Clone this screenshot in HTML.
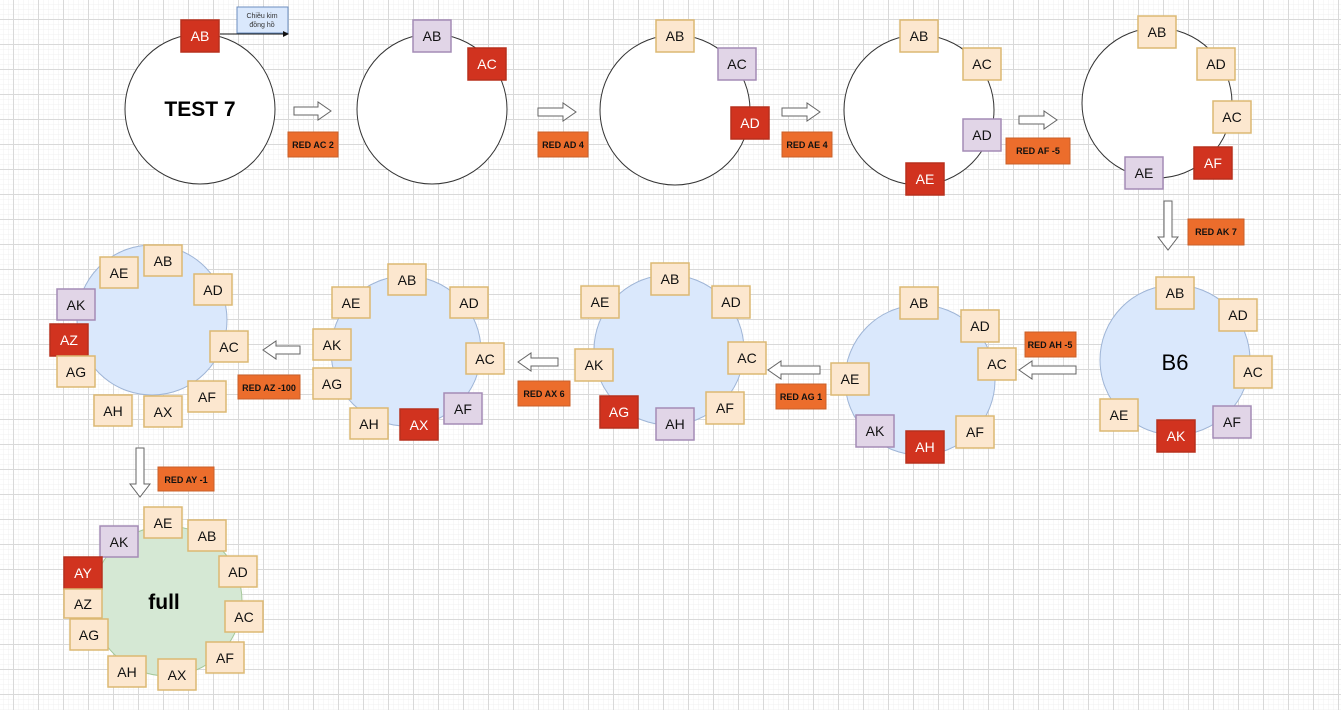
<!DOCTYPE html>
<html><head><meta charset="utf-8"><style>
html,body{margin:0;padding:0;background:#fff}
svg{display:block}
text{font-family:"Liberation Sans",sans-serif}
.p{fill:#fce7cf;stroke:#dcb872;stroke-width:1.5}
.r{fill:#d1331f;stroke:#b8301d;stroke-width:1.5}
.l{fill:#e1d5e7;stroke:#a48bb5;stroke-width:1.5}
.o{fill:#ec6d2c;stroke:#c9602a}
.t{font-size:14px;text-anchor:middle;fill:#111}
.tw{font-size:14px;text-anchor:middle;fill:#fff}
.ot{font-size:9px;font-weight:bold;text-anchor:middle;fill:#111}
.ar{fill:#fff;stroke:#666;stroke-width:1}
</style></head><body>
<svg width="1341" height="710" xmlns="http://www.w3.org/2000/svg">
<defs>
<pattern id="g1" width="5" height="5" patternUnits="userSpaceOnUse" x="13" y="19"><path d="M0 0H5M0 0V5" stroke="#f0f0f0" stroke-width="1" fill="none"/></pattern>
<pattern id="g2" width="25" height="25" patternUnits="userSpaceOnUse" x="13" y="19"><path d="M0 0.5H25M0.5 0V25" stroke="#d9d9d9" stroke-width="1" fill="none"/></pattern>
</defs>
<rect width="1341" height="710" fill="url(#g1)"/>
<rect width="1341" height="710" fill="url(#g2)"/>

<!-- circle 1 -->
<circle cx="200" cy="109" r="75" fill="#fff" stroke="#333"/>
<text x="200" y="116" style="font-size:21px;font-weight:bold;text-anchor:middle">TEST 7</text>
<rect x="237" y="7" width="51" height="26" fill="#dae8fc" stroke="#6c8ebf"/>
<text x="262" y="18" style="font-size:7px;text-anchor:middle;fill:#333">Chiều kim</text>
<text x="262" y="27" style="font-size:7px;text-anchor:middle;fill:#333">đồng hồ</text>
<line x1="220" y1="34" x2="285" y2="34" stroke="#111"/>
<polygon points="289,34 283,31 283,37" fill="#111"/>
<rect x="181" y="20" width="38" height="32" class="r"/><text x="200" y="41" class="tw">AB</text>
<polygon class="ar" points="294,107 318,107 318,102 331,111 318,120 318,115 294,115"/>
<rect x="288" y="132" width="50" height="25" class="o"/><text x="313" y="148" class="ot">RED AC 2</text>

<!-- circle 2 -->
<circle cx="432" cy="109" r="75" fill="#fff" stroke="#333"/>
<rect x="413" y="20" width="38" height="32" class="l"/><text x="432" y="41" class="t">AB</text>
<rect x="468" y="48" width="38" height="32" class="r"/><text x="487" y="69" class="tw">AC</text>
<polygon class="ar" points="538,108 563,108 563,103 576,112 563,121 563,116 538,116"/>
<rect x="538" y="132" width="50" height="25" class="o"/><text x="563" y="148" class="ot">RED AD 4</text>

<!-- circle 3 -->
<circle cx="675" cy="110" r="75" fill="#fff" stroke="#333"/>
<rect x="656" y="20" width="38" height="32" class="p"/><text x="675" y="41" class="t">AB</text>
<rect x="718" y="48" width="38" height="32" class="l"/><text x="737" y="69" class="t">AC</text>
<rect x="731" y="107" width="38" height="32" class="r"/><text x="750" y="128" class="tw">AD</text>
<polygon class="ar" points="782,108 807,108 807,103 820,112 807,121 807,116 782,116"/>
<rect x="782" y="132" width="50" height="25" class="o"/><text x="807" y="148" class="ot">RED AE 4</text>

<!-- circle 4 -->
<circle cx="919" cy="110" r="75" fill="#fff" stroke="#333"/>
<rect x="900" y="20" width="38" height="32" class="p"/><text x="919" y="41" class="t">AB</text>
<rect x="963" y="48" width="38" height="32" class="p"/><text x="982" y="69" class="t">AC</text>
<rect x="963" y="119" width="38" height="32" class="l"/><text x="982" y="140" class="t">AD</text>
<rect x="906" y="163" width="38" height="32" class="r"/><text x="925" y="184" class="tw">AE</text>
<polygon class="ar" points="1019,116 1044,116 1044,111 1057,120 1044,129 1044,124 1019,124"/>
<rect x="1006" y="138" width="64" height="26" class="o"/><text x="1038" y="154" class="ot">RED AF -5</text>

<!-- circle 5 -->
<circle cx="1157" cy="103" r="75" fill="#fff" stroke="#333"/>
<rect x="1138" y="16" width="38" height="32" class="p"/><text x="1157" y="37" class="t">AB</text>
<rect x="1197" y="48" width="38" height="32" class="p"/><text x="1216" y="69" class="t">AD</text>
<rect x="1213" y="101" width="38" height="32" class="p"/><text x="1232" y="122" class="t">AC</text>
<rect x="1194" y="147" width="38" height="32" class="r"/><text x="1213" y="168" class="tw">AF</text>
<rect x="1125" y="157" width="38" height="32" class="l"/><text x="1144" y="178" class="t">AE</text>
<polygon class="ar" points="1164,201 1172,201 1172,237 1178,237 1168,250 1158,237 1164,237"/>
<rect x="1188" y="219" width="56" height="26" class="o"/><text x="1216" y="235" class="ot">RED AK 7</text>

<!-- circle 6 B6 -->
<circle cx="1175" cy="360" r="75" fill="#dae8fc" stroke="#9fb5d6"/>
<text x="1175" y="370" style="font-size:22px;text-anchor:middle">B6</text>
<rect x="1156" y="277" width="38" height="32" class="p"/><text x="1175" y="298" class="t">AB</text>
<rect x="1219" y="299" width="38" height="32" class="p"/><text x="1238" y="320" class="t">AD</text>
<rect x="1234" y="356" width="38" height="32" class="p"/><text x="1253" y="377" class="t">AC</text>
<rect x="1213" y="406" width="38" height="32" class="l"/><text x="1232" y="427" class="t">AF</text>
<rect x="1157" y="420" width="38" height="32" class="r"/><text x="1176" y="441" class="tw">AK</text>
<rect x="1100" y="399" width="38" height="32" class="p"/><text x="1119" y="420" class="t">AE</text>
<polygon class="ar" points="1076,366 1032,366 1032,361 1019,370 1032,379 1032,374 1076,374"/>
<rect x="1025" y="332" width="51" height="25" class="o"/><text x="1050" y="348" class="ot">RED AH -5</text>

<!-- circle 7 -->
<circle cx="920" cy="380" r="75" fill="#dae8fc" stroke="#9fb5d6"/>
<rect x="900" y="287" width="38" height="32" class="p"/><text x="919" y="308" class="t">AB</text>
<rect x="961" y="310" width="38" height="32" class="p"/><text x="980" y="331" class="t">AD</text>
<rect x="978" y="348" width="38" height="32" class="p"/><text x="997" y="369" class="t">AC</text>
<rect x="956" y="416" width="38" height="32" class="p"/><text x="975" y="437" class="t">AF</text>
<rect x="906" y="431" width="38" height="32" class="r"/><text x="925" y="452" class="tw">AH</text>
<rect x="856" y="415" width="38" height="32" class="l"/><text x="875" y="436" class="t">AK</text>
<rect x="831" y="363" width="38" height="32" class="p"/><text x="850" y="384" class="t">AE</text>
<polygon class="ar" points="820,366 781,366 781,361 768,370 781,379 781,374 820,374"/>
<rect x="776" y="384" width="50" height="25" class="o"/><text x="801" y="400" class="ot">RED AG 1</text>

<!-- circle 8 -->
<circle cx="669" cy="350" r="75" fill="#dae8fc" stroke="#9fb5d6"/>
<rect x="651" y="263" width="38" height="32" class="p"/><text x="670" y="284" class="t">AB</text>
<rect x="712" y="286" width="38" height="32" class="p"/><text x="731" y="307" class="t">AD</text>
<rect x="728" y="342" width="38" height="32" class="p"/><text x="747" y="363" class="t">AC</text>
<rect x="706" y="392" width="38" height="32" class="p"/><text x="725" y="413" class="t">AF</text>
<rect x="656" y="408" width="38" height="32" class="l"/><text x="675" y="429" class="t">AH</text>
<rect x="600" y="396" width="38" height="32" class="r"/><text x="619" y="417" class="tw">AG</text>
<rect x="575" y="349" width="38" height="32" class="p"/><text x="594" y="370" class="t">AK</text>
<rect x="581" y="286" width="38" height="32" class="p"/><text x="600" y="307" class="t">AE</text>
<polygon class="ar" points="558,358 531,358 531,353 518,362 531,371 531,366 558,366"/>
<rect x="518" y="381" width="52" height="25" class="o"/><text x="544" y="397" class="ot">RED AX 6</text>

<!-- circle 9 -->
<circle cx="406" cy="351" r="75" fill="#dae8fc" stroke="#9fb5d6"/>
<rect x="388" y="264" width="38" height="31" class="p"/><text x="407" y="285" class="t">AB</text>
<rect x="332" y="287" width="38" height="31" class="p"/><text x="351" y="308" class="t">AE</text>
<rect x="450" y="287" width="38" height="31" class="p"/><text x="469" y="308" class="t">AD</text>
<rect x="313" y="329" width="38" height="31" class="p"/><text x="332" y="350" class="t">AK</text>
<rect x="466" y="343" width="38" height="31" class="p"/><text x="485" y="364" class="t">AC</text>
<rect x="313" y="368" width="38" height="31" class="p"/><text x="332" y="389" class="t">AG</text>
<rect x="444" y="393" width="38" height="31" class="l"/><text x="463" y="414" class="t">AF</text>
<rect x="350" y="408" width="38" height="31" class="p"/><text x="369" y="429" class="t">AH</text>
<rect x="400" y="409" width="38" height="31" class="r"/><text x="419" y="430" class="tw">AX</text>
<polygon class="ar" points="300,346 276,346 276,341 263,350 276,359 276,354 300,354"/>
<rect x="238" y="375" width="62" height="24" class="o"/><text x="269" y="391" class="ot">RED AZ -100</text>

<!-- circle 10 -->
<circle cx="152" cy="320" r="75" fill="#dae8fc" stroke="#9fb5d6"/>
<rect x="144" y="245" width="38" height="31" class="p"/><text x="163" y="266" class="t">AB</text>
<rect x="100" y="257" width="38" height="31" class="p"/><text x="119" y="278" class="t">AE</text>
<rect x="194" y="274" width="38" height="31" class="p"/><text x="213" y="295" class="t">AD</text>
<rect x="57" y="289" width="38" height="31" class="l"/><text x="76" y="310" class="t">AK</text>
<rect x="50" y="324" width="38" height="32" class="r"/><text x="69" y="345" class="tw">AZ</text>
<rect x="210" y="331" width="38" height="31" class="p"/><text x="229" y="352" class="t">AC</text>
<rect x="57" y="356" width="38" height="31" class="p"/><text x="76" y="377" class="t">AG</text>
<rect x="188" y="381" width="38" height="31" class="p"/><text x="207" y="402" class="t">AF</text>
<rect x="94" y="395" width="38" height="31" class="p"/><text x="113" y="416" class="t">AH</text>
<rect x="144" y="396" width="38" height="31" class="p"/><text x="163" y="417" class="t">AX</text>
<polygon class="ar" points="136,448 144,448 144,484 150,484 140,497 130,484 136,484"/>
<rect x="158" y="467" width="56" height="24" class="o"/><text x="186" y="483" class="ot">RED AY -1</text>

<!-- circle 11 full -->
<circle cx="167" cy="601" r="75" fill="#d5e8d4" stroke="#a5c79a"/>
<text x="164" y="609" style="font-size:21px;font-weight:bold;text-anchor:middle">full</text>
<rect x="144" y="507" width="38" height="31" class="p"/><text x="163" y="528" class="t">AE</text>
<rect x="188" y="520" width="38" height="31" class="p"/><text x="207" y="541" class="t">AB</text>
<rect x="100" y="526" width="38" height="31" class="l"/><text x="119" y="547" class="t">AK</text>
<rect x="219" y="556" width="38" height="31" class="p"/><text x="238" y="577" class="t">AD</text>
<rect x="64" y="557" width="38" height="32" class="r"/><text x="83" y="578" class="tw">AY</text>
<rect x="64" y="589" width="38" height="29" class="p"/><text x="83" y="609" class="t">AZ</text>
<rect x="225" y="601" width="38" height="31" class="p"/><text x="244" y="622" class="t">AC</text>
<rect x="70" y="619" width="38" height="31" class="p"/><text x="89" y="640" class="t">AG</text>
<rect x="206" y="642" width="38" height="31" class="p"/><text x="225" y="663" class="t">AF</text>
<rect x="108" y="656" width="38" height="31" class="p"/><text x="127" y="677" class="t">AH</text>
<rect x="158" y="659" width="38" height="31" class="p"/><text x="177" y="680" class="t">AX</text>
</svg>
</body></html>
